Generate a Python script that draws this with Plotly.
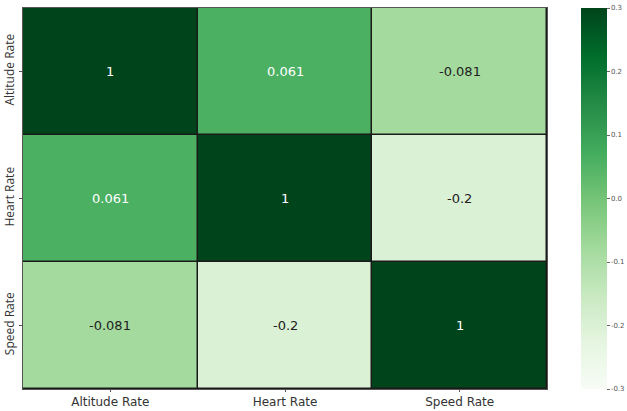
import plotly.graph_objects as go

labels = ["Altitude Rate", "Heart Rate", "Speed Rate"]
corr = [
    [1.0, 0.061, -0.081],
    [0.061, 1.0, -0.2],
    [-0.081, -0.2, 1.0],
]
text_vals = [["1", "0.061", "-0.081"], ["0.061", "1", "-0.2"], ["-0.081", "-0.2", "1"]]
cbar_ticks = [-0.3, -0.2, -0.1, 0.0, 0.1, 0.2, 0.3]
cbar_text = ["-0.3", "-0.2", "-0.1", "0.0", "0.1", "0.2", "0.3"]
zmin, zmax = -0.3, 0.3

fig = go.Figure()
fig.add_trace(go.Heatmap(
    z=corr, x=labels, y=labels,
    colorscale="Greens", zmin=zmin, zmax=zmax,
    xgap=1.5, ygap=1.5,
    showscale=True,
    colorbar=dict(
        x=1.065, xanchor="left", xref="paper", xpad=0, ypad=0,
        y=0.5, yanchor="middle", len=1.0, lenmode="fraction",
        thickness=26, outlinewidth=0,
        tickvals=cbar_ticks, ticktext=cbar_text,
        ticks="outside", ticklen=3, tickcolor="#666",
        tickfont=dict(family="DejaVu Sans", size=7, color="#555"),
    ),
    hoverinfo="skip",
))

for i, row in enumerate(corr):
    for j, v in enumerate(row):
        norm = (min(max(v, zmin), zmax) - zmin) / (zmax - zmin)
        col = "white" if norm > 0.5 else "#222"
        fig.add_annotation(x=labels[j], y=labels[i], text=text_vals[i][j],
                           showarrow=False,
                           font=dict(family="DejaVu Sans", size=13, color=col))

fig.update_layout(
    width=627, height=411,
    margin=dict(l=23, r=80, t=8, b=22, autoexpand=False),
    paper_bgcolor="white", plot_bgcolor="#1a1a1a",
    xaxis=dict(showgrid=False, zeroline=False, ticks="outside", ticklen=2,
               tickcolor="#555", showline=True, linecolor="#555", mirror=True,
               tickfont=dict(family="DejaVu Sans", size=12, color="#333")),
    yaxis=dict(showgrid=False, zeroline=False, autorange="reversed",
               ticks="outside", ticklen=3, tickcolor="#555", tickangle=-90,
               showline=True, linecolor="#555", mirror=True,
               tickfont=dict(family="Open Sans", size=12, color="#333")),
)

fig.write_html("out.html")
